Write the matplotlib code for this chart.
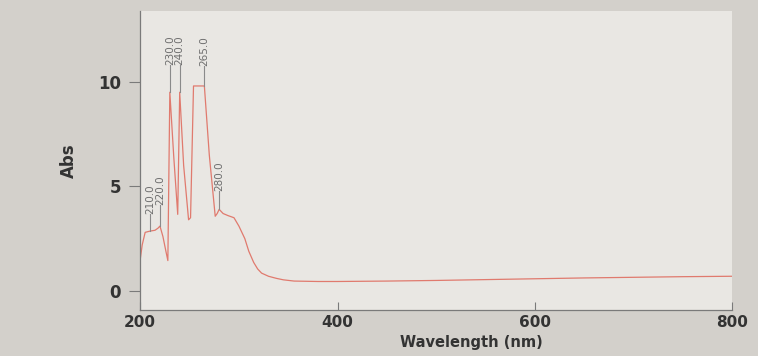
import numpy as np
import matplotlib.pyplot as plt

# spectrum
wavelength = [200, 202, 205, 210, 215, 218, 220, 223, 226, 228, 230, 234, 238,
              240, 244, 249, 251, 254, 258, 262, 265, 270, 276, 278, 280, 284, 289,
              295, 300, 306, 310, 315, 319, 323, 330, 338, 345, 356, 380, 400,
              450, 500, 550, 600, 650, 700, 750, 800]
absorbance = [1.5, 2.2, 2.8, 2.86, 2.9, 3.0, 3.1, 2.6, 1.9, 1.45, 9.5, 6.4, 3.66,
              9.5, 6.0, 3.4, 3.5, 9.8, 9.8, 9.8, 9.8, 6.5, 3.57, 3.7, 3.9, 3.7, 3.6,
              3.5, 3.1, 2.5, 1.9, 1.36, 1.05, 0.85, 0.7, 0.6, 0.53, 0.47, 0.45, 0.45,
              0.47, 0.5, 0.54, 0.58, 0.62, 0.65, 0.68, 0.7]

# peak markers: wavelength, absorbance at peak, label base
peak_wl = [210, 220, 230, 240, 265, 280]
peak_abs = [2.86, 3.1, 9.5, 9.5, 9.8, 3.9]
label_base = [3.7, 4.1, 10.8, 10.8, 10.75, 4.8]

fig = plt.figure(figsize=(7.58, 3.56), dpi=100, facecolor='#d3d0cb')
ax = fig.add_axes([0.185, 0.13, 0.781, 0.84])
ax.set_facecolor('#e9e7e3')

ax.plot(wavelength, absorbance, color='#e07a6e', lw=0.9)

for w, a, b in zip(peak_wl, peak_abs, label_base):
    ax.plot([w, w], [a, b], color='#8a8a8a', lw=0.8)
    ax.text(w, b, f'{w:.1f}', rotation=90, ha='center', va='bottom',
            fontsize=7.5, color='#6e6e6e')

ax.set_xlim(200, 800)
ax.set_ylim(-0.9, 13.4)
ax.set_xticks([200, 400, 600, 800])
ax.set_yticks([0, 5, 10])

for s in ['top', 'right']:
    ax.spines[s].set_visible(False)
for s in ['left', 'bottom']:
    ax.spines[s].set_color('#7a7a7a')
    ax.spines[s].set_linewidth(0.9)

ax.tick_params(axis='y', direction='out', length=8, color='#7a7a7a',
               labelsize=12, labelcolor='#333333', pad=6)
ax.tick_params(axis='x', direction='in', length=6, color='#7a7a7a',
               labelsize=11, labelcolor='#333333', pad=4)
for lbl in ax.get_xticklabels() + ax.get_yticklabels():
    lbl.set_fontweight('bold')

ax.set_xlabel('Wavelength (nm)', fontsize=10.5, fontweight='bold', color='#333333')
ax.xaxis.set_label_coords(0.56, -0.085)
ax.set_ylabel('Abs', fontsize=12, fontweight='bold', color='#333333', labelpad=14)

fig.savefig('out.png', dpi=100, facecolor=fig.get_facecolor())
